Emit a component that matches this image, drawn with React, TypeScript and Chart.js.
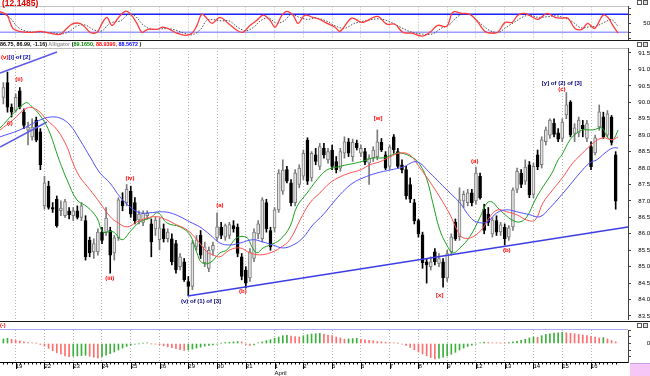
import React, { useEffect, useRef } from "react";
import { Chart, registerables } from "chart.js";
Chart.register(...registerables);

// ---------- data ----------
const dayStartBar = [3, 10, 17, 24, 31, 38, 45, 52, 59, 66, 73, 80, 87, 94, 101, 108, 115, 122, 129, 136, 143];
const dayLabels = ["19", "22", "23", "24", "25", "26", "29", "30", "31", "1", "2", "5", "6", "7", "8", "9", "12", "13", "14", "15", "16"];
const monthName = "April";
const monthStartDay = 9;

const openP = [
  90.15, 90.60, 89.85, 89.75, 90.35, 89.70, 89.15, 88.95, 89.45, 89.10,
  86.85, 87.45, 86.80, 87.05, 86.70, 86.55, 86.70, 86.55, 86.70, 86.50,
  86.40, 85.80, 85.45, 85.45, 86.05, 86.05, 86.10, 85.42, 85.88, 87.00,
  86.95, 87.30, 86.95, 86.42, 86.35, 86.55, 86.30, 86.15, 85.82, 86.15,
  85.85, 85.85, 85.70, 85.00, 85.15, 84.55, 84.40, 85.62, 85.95, 85.12,
  84.95, 85.50, 85.88, 86.20, 85.90, 85.95, 86.25, 86.20, 85.30, 84.90,
  84.66, 85.25, 86.00, 85.85, 86.95, 86.10, 86.18, 86.73, 87.30, 87.95,
  87.55, 86.95, 87.50, 87.75, 88.85, 87.70, 88.40, 88.05, 88.60, 88.25,
  88.55, 88.20, 88.00, 88.45, 88.80, 88.35, 88.75, 88.45, 88.50, 88.15,
  88.30, 88.35, 88.78, 88.40, 88.05, 88.95, 88.50, 88.10, 87.95, 87.50,
  86.95, 86.40, 85.97, 85.15, 85.00, 85.45, 85.10, 85.15, 84.66, 85.45,
  86.35, 85.91, 87.00, 86.95, 87.25, 87.00, 87.75, 86.75, 86.60, 86.00,
  86.40, 86.06, 86.20, 85.90, 86.21, 87.35, 87.85, 87.60, 88.10, 87.20,
  88.40, 88.10, 88.80, 89.00, 89.37, 89.07, 88.90, 89.62, 90.01, 89.05,
  89.07, 89.30, 88.90, 88.65, 88.46, 89.25, 89.56, 89.00, 89.55, 88.40,
];
const highP = [
  90.60, 90.92, 89.95, 90.25, 90.45, 89.80, 89.40, 89.50, 89.55, 89.20,
  87.75, 87.60, 86.95, 87.15, 87.00, 87.05, 86.80, 86.80, 86.85, 86.95,
  86.55, 85.90, 85.85, 86.15, 86.20, 86.80, 86.20, 85.95, 87.10, 87.25,
  87.50, 87.45, 87.10, 86.70, 86.70, 86.70, 86.45, 86.50, 86.48, 86.30,
  86.15, 86.00, 85.80, 85.40, 85.25, 84.70, 85.80, 85.95, 86.10, 85.75,
  85.60, 85.75, 86.64, 86.35, 86.30, 86.35, 86.40, 86.30, 85.40, 85.00,
  85.55, 86.15, 86.40, 87.10, 87.05, 86.20, 86.80, 87.95, 88.25, 88.05,
  87.65, 87.95, 88.10, 88.55, 88.92, 88.50, 88.60, 88.75, 88.75, 88.60,
  88.70, 88.35, 88.60, 88.95, 88.90, 88.88, 88.85, 88.70, 88.60, 88.40,
  88.65, 89.16, 88.90, 88.50, 88.70, 89.02, 88.60, 88.25, 88.05, 87.70,
  87.05, 86.45, 86.05, 85.25, 85.30, 85.55, 85.40, 85.25, 85.50, 86.00,
  86.45, 87.40, 87.30, 87.35, 87.35, 88.03, 87.85, 86.90, 86.80, 86.50,
  86.55, 86.35, 86.30, 86.25, 87.40, 88.00, 87.95, 88.25, 88.20, 88.15,
  88.55, 88.95, 89.25, 89.50, 89.50, 89.20, 89.50, 90.30, 90.05, 89.35,
  89.55, 89.45, 89.45, 88.80, 89.00, 89.92, 89.70, 89.75, 89.60, 88.50,
];
const lowP = [
  89.95, 89.70, 89.55, 89.70, 89.80, 89.20, 88.70, 88.85, 88.80, 87.95,
  86.75, 86.75, 86.65, 86.20, 86.55, 86.50, 86.45, 86.40, 86.45, 86.40,
  85.20, 85.30, 85.25, 85.35, 85.70, 85.95, 84.80, 85.20, 85.80, 86.70,
  86.85, 86.50, 86.30, 86.30, 86.25, 86.45, 85.30, 85.95, 85.51, 85.75,
  85.75, 85.05, 84.80, 84.90, 84.55, 84.12, 84.30, 85.50, 85.25, 85.00,
  84.85, 85.35, 85.80, 85.85, 85.80, 85.85, 86.05, 85.30, 84.60, 84.35,
  84.55, 85.15, 85.85, 85.75, 86.05, 85.50, 86.05, 86.65, 87.20, 87.55,
  86.85, 86.85, 87.40, 87.65, 87.50, 87.60, 88.10, 87.95, 88.30, 88.15,
  87.95, 87.85, 87.90, 88.30, 88.35, 88.20, 88.55, 88.35, 88.10, 87.50,
  88.20, 88.25, 88.50, 87.95, 87.95, 88.45, 88.00, 87.85, 87.05, 86.95,
  86.30, 85.90, 84.95, 84.50, 84.90, 85.05, 85.00, 84.38, 84.55, 85.35,
  85.80, 85.80, 86.80, 86.85, 86.85, 86.90, 87.05, 86.00, 86.25, 85.90,
  85.95, 85.95, 85.66, 85.80, 86.10, 87.25, 87.40, 87.50, 87.10, 87.10,
  87.95, 88.00, 88.70, 88.90, 88.95, 88.80, 88.80, 89.50, 88.95, 88.80,
  88.95, 88.95, 88.80, 87.95, 88.40, 89.15, 88.90, 88.95, 88.70, 86.75,
];
const closeP = [
  90.45, 89.85, 89.70, 90.15, 89.85, 89.30, 89.25, 89.25, 88.85, 88.10,
  87.55, 86.80, 86.75, 86.25, 86.78, 86.98, 86.58, 86.70, 86.50, 86.85,
  85.30, 85.42, 85.70, 86.05, 85.80, 86.48, 85.35, 85.88, 87.03, 86.85,
  87.35, 86.60, 86.40, 86.60, 86.62, 86.62, 85.75, 86.42, 86.18, 85.85,
  86.05, 85.15, 84.90, 85.30, 84.60, 84.40, 85.72, 85.82, 85.35, 85.60,
  85.50, 85.65, 86.21, 85.95, 86.25, 86.28, 86.15, 85.40, 84.70, 84.50,
  85.45, 86.05, 86.30, 87.03, 86.15, 85.60, 86.73, 87.85, 87.94, 87.60,
  86.95, 87.85, 88.00, 88.45, 87.60, 88.45, 88.20, 88.65, 88.40, 88.50,
  88.05, 87.95, 88.50, 88.80, 88.45, 88.78, 88.62, 88.60, 88.18, 88.30,
  88.55, 88.80, 88.55, 88.00, 88.64, 88.55, 88.05, 87.95, 87.15, 87.05,
  86.40, 86.00, 85.12, 85.05, 85.15, 85.15, 85.25, 84.66, 85.40, 85.90,
  85.85, 87.03, 87.20, 87.25, 86.95, 87.85, 87.10, 86.10, 86.35, 86.42,
  86.05, 86.27, 85.85, 86.18, 87.34, 87.90, 87.50, 88.03, 87.18, 88.05,
  88.04, 88.86, 89.16, 89.46, 89.02, 88.88, 89.40, 89.92, 89.01, 89.22,
  89.46, 89.20, 89.35, 88.04, 88.92, 89.71, 88.95, 89.65, 88.78, 86.99,
];

// Alligator (sampled along the bars)
const lipsX = [-0.8, 5.3, 7.0, 9.4, 11.3, 13.3, 14.5, 15.5, 17.9, 20.4, 22.8, 24.2, 26.7, 28.9, 30.8, 33.2, 35.7, 37.6, 39.8, 43.0, 45.4, 47.1, 48.3, 50.3, 52.7, 54.4, 56.8, 59.3, 60.5, 61.7, 63.2, 64.9, 67.3, 69.7, 71.4, 73.9, 76.3, 78.7, 81.2, 83.6, 86.0, 88.5, 89.9, 92.4, 94.6, 96.5, 99.7, 101.4, 103.1, 104.5, 106.2, 107.9, 109.4, 111.1, 113.5, 115.9, 117.7, 118.9, 120.3, 122.1, 123.8, 125.7, 127.4, 129.4, 131.3, 133.5, 135.0, 135.9, 137.9, 139.6, 141.0, 143.5, 145.7, 146.9, 148.3, 149.6];
const lipsY = [89.22, 89.98, 89.86, 89.52, 89.07, 88.34, 87.94, 87.64, 87.03, 86.82, 86.48, 86.06, 86.06, 85.82, 86.06, 86.36, 86.48, 86.64, 86.33, 86.21, 85.97, 85.42, 85.12, 85.12, 85.42, 85.51, 85.88, 85.88, 85.60, 85.42, 85.57, 85.66, 85.82, 86.21, 86.82, 87.24, 87.64, 87.94, 88.03, 88.10, 88.16, 88.25, 88.31, 88.31, 88.40, 88.46, 88.31, 88.10, 87.64, 86.94, 86.12, 85.66, 85.42, 85.57, 85.91, 86.48, 86.94, 86.97, 86.79, 86.58, 86.42, 86.36, 86.52, 87.03, 87.43, 87.85, 88.25, 88.40, 88.86, 89.07, 89.16, 89.16, 89.22, 88.95, 88.86, 89.16];
const teethX = [-0.8, 2.3, 5.8, 8.2, 10.6, 13.1, 15.5, 16.9, 18.6, 21.1, 23.5, 26.0, 27.6, 30.1, 32.5, 34.9, 37.4, 39.8, 42.2, 44.7, 47.1, 49.5, 51.0, 52.7, 55.1, 57.6, 60.0, 62.4, 64.9, 67.3, 69.7, 72.2, 74.6, 77.0, 79.5, 81.9, 84.3, 86.8, 89.2, 91.6, 94.1, 96.5, 98.9, 101.4, 103.8, 106.2, 108.7, 110.4, 111.8, 114.3, 116.7, 118.4, 120.3, 122.5, 124.9, 127.4, 129.4, 131.3, 133.7, 136.2, 138.6, 141.0, 143.5, 145.9, 148.1, 149.6];
const teethY = [89.16, 89.46, 89.83, 89.77, 89.46, 89.16, 88.64, 88.16, 87.73, 87.34, 86.94, 86.52, 86.36, 86.21, 86.36, 86.48, 86.52, 86.42, 86.27, 86.12, 85.82, 85.45, 85.36, 85.30, 85.51, 85.57, 85.42, 85.36, 85.42, 85.57, 85.82, 86.42, 86.94, 87.24, 87.55, 87.73, 87.85, 87.94, 88.10, 88.19, 88.34, 88.46, 88.40, 88.00, 87.58, 87.12, 86.58, 86.12, 85.88, 85.91, 86.18, 86.52, 86.73, 86.67, 86.58, 86.42, 86.42, 86.94, 87.34, 87.73, 88.16, 88.46, 88.76, 88.92, 88.86, 88.95];
const jawX = [-0.8, 4.0, 8.9, 11.3, 13.8, 16.2, 18.6, 21.1, 23.5, 25.9, 28.4, 30.8, 33.2, 35.7, 38.1, 40.5, 43.0, 45.4, 47.8, 50.3, 52.7, 55.1, 57.6, 60.7, 63.2, 65.6, 68.0, 70.5, 72.9, 75.3, 77.8, 80.2, 82.6, 85.1, 87.5, 90.9, 94.1, 97.2, 100.6, 103.8, 106.2, 108.7, 111.1, 113.5, 115.2, 117.7, 120.1, 122.5, 124.9, 128.1, 130.6, 133.0, 135.4, 137.9, 140.3, 142.7, 144.4, 146.4, 148.3, 149.6];
const jawY = [88.95, 89.16, 89.46, 89.55, 89.52, 89.31, 88.86, 88.34, 87.85, 87.55, 87.12, 86.82, 86.64, 86.64, 86.67, 86.64, 86.52, 86.36, 86.21, 85.97, 85.72, 85.66, 85.72, 85.82, 85.75, 85.66, 85.57, 85.66, 85.88, 86.27, 86.58, 86.94, 87.28, 87.55, 87.70, 87.85, 87.94, 88.03, 88.19, 87.85, 87.55, 87.24, 86.94, 86.52, 86.36, 86.36, 86.64, 86.73, 86.67, 86.58, 86.52, 86.79, 87.12, 87.49, 87.85, 88.16, 88.25, 88.46, 88.61, 88.61];

// Trend lines (bar index, price)
const trendUpperX = [-0.8, 13.05];
const trendUpperY = [90.89, 91.53];
const trendLeftX = [-0.8, 10.6];
const trendLeftY = [88.64, 89.4];
const trendMainX = [44.9, 152];
const trendMainY = [84.11, 86.21];

// Wave labels
const minorWaveText = ["(i)", "(ii)", "(iii)", "(iv)", "(a)", "(b)", "[w]", "[x]", "(a)", "(b)", "(c)"];
const minorWaveBar = [1.6, 3.8, 25.9, 30.8, 52.7, 58.3, 91.2, 106.2, 114.7, 122.5, 135.9];
const minorWavePrice = [89.37, 90.71, 84.63, 87.7, 86.88, 84.24, 89.52, 84.14, 88.19, 85.51, 90.38];
const majorWaveText = ["(v) of (1) of [3]", "[y] of (2) of [3]"];
const majorWaveBar = [48.1, 135.9];
const majorWavePrice = [83.96, 90.59];
const cornerParts = ["(v)", "[i] of [2]"];
const cornerBar = -0.8;
const cornerPrice = 91.36;

const priceTicks = [83.5, 84, 84.5, 85, 85.5, 86, 86.5, 87, 87.5, 88, 88.5, 89, 89.5, 90, 90.5, 91, 91.5];

// Stochastic
const stochKx = [-0.8, 0.9, 2.3, 4.0, 5.7, 7.2, 8.9, 11.3, 13.8, 15.0, 16.7, 18.6, 19.9, 21.1, 22.8, 24.0, 25.2, 26.4, 27.9, 29.6, 30.8, 32.5, 33.7, 35.2, 37.4, 38.8, 40.5, 42.2, 44.2, 45.9, 47.1, 48.3, 49.5, 50.8, 52.7, 54.7, 56.8, 58.3, 60.0, 61.7, 63.2, 64.9, 66.1, 67.8, 69.0, 70.5, 71.7, 73.4, 75.3, 77.5, 78.3, 80.7, 81.9, 84.8, 87.3, 91.0, 93.3, 95.3, 97.2, 99.4, 101.9, 103.8, 105.7, 107.9, 109.4, 111.6, 113.5, 115.5, 117.2, 118.9, 120.3, 122.1, 123.8, 125.2, 126.9, 128.9, 130.1, 132.3, 134.2, 135.9, 137.4, 139.1, 140.8, 142.2, 143.9, 145.9, 147.1, 148.3, 149.6];
const stochK = [89, 77, 33, 23, 20, 20, 23, 17, 13, 27, 47, 50, 37, 20, 20, 50, 70, 43, 67, 90, 83, 50, 20, 30, 30, 37, 30, 17, 10, 17, 43, 80, 67, 50, 70, 50, 27, 20, 43, 60, 77, 60, 37, 77, 90, 77, 50, 77, 70, 60, 53, 37, 23, 67, 53, 73, 47, 47, 20, 17, 7, 20, 43, 40, 87, 83, 80, 53, 23, 17, 20, 53, 53, 77, 83, 70, 63, 83, 70, 67, 67, 33, 30, 50, 33, 77, 70, 43, 17];
const stochDx = [-0.8, 1.5, 3.3, 5, 7, 9.5, 12, 14.5, 16.3, 18, 20, 22, 24, 25.5, 27, 28.5, 30.5, 32, 34, 36, 38, 40, 42, 44, 46, 48, 49.5, 51, 53, 55, 57, 59, 61, 62.5, 64.5, 66.5, 68.5, 70, 72, 74, 76, 78.5, 81, 83, 85.5, 88, 91.5, 94, 96.5, 99, 102, 104.5, 106.5, 108.5, 110.5, 112.5, 114.5, 116.5, 118.5, 120.5, 122.5, 124.5, 126, 128, 130, 132.5, 134.5, 136.5, 138.5, 140.5, 142.5, 144.5, 146.5, 148, 149.6];
const stochD = [85, 70, 40, 26, 21, 21, 18, 15, 25, 42, 44, 28, 25, 45, 55, 58, 80, 75, 45, 30, 31, 33, 27, 17, 12, 30, 60, 62, 58, 58, 37, 25, 38, 58, 68, 50, 60, 80, 70, 63, 68, 58, 40, 33, 50, 58, 65, 55, 38, 22, 14, 15, 33, 45, 72, 83, 70, 45, 25, 20, 38, 55, 68, 78, 70, 72, 75, 68, 55, 35, 38, 42, 55, 62, 40];
const stochLevels = [80, 20];
const stochTicks = [0, 20, 50, 80, 100];
const stochLabelValue = 50;

// Gator oscillator (one value per bar)
const gatorVals = [
  0.14, 0.16, 0.13, 0.10, 0.08, 0.05, 0.03, 0.02, 0.01, -0.03,
  -0.08, -0.15, -0.22, -0.28, -0.33, -0.38, -0.40, -0.39, -0.38, -0.37,
  -0.36, -0.39, -0.42, -0.44, -0.40, -0.36, -0.31, -0.26, -0.20, -0.14,
  -0.09, -0.05, -0.02, -0.01, 0.01, 0.02, -0.01, -0.02, -0.04, -0.07,
  -0.10, -0.13, -0.16, -0.19, -0.21, -0.20, -0.17, -0.14, -0.11, -0.08,
  -0.06, -0.04, -0.02, 0.01, 0.03, 0.04, 0.05, 0.06, 0.05, -0.03,
  -0.06, -0.04, 0.02, 0.05, 0.09, 0.12, 0.16, 0.20, 0.24, 0.25,
  0.23, 0.21, 0.20, 0.24, 0.27, 0.29, 0.30, 0.31, 0.29, 0.26,
  0.24, 0.20, 0.17, 0.13, 0.14, 0.15, 0.16, 0.13, 0.11, 0.10,
  0.08, 0.06, 0.05, 0.04, 0.03, 0.02, 0.01, -0.02, -0.06, -0.12,
  -0.19, -0.26, -0.32, -0.38, -0.43, -0.47, -0.45, -0.42, -0.38, -0.33,
  -0.27, -0.20, -0.14, -0.09, -0.05, -0.02, 0.02, 0.04, 0.03, 0.02,
  0.02, 0.01, 0.01, 0.03, 0.05, 0.07, 0.10, 0.13, 0.17, 0.20,
  0.19, 0.24, 0.28, 0.30, 0.32, 0.33, 0.34, 0.33, 0.31, 0.30,
  0.28, 0.26, 0.24, 0.22, 0.20, 0.17, 0.18, 0.14, 0.09, 0.05,
];
const gatorTicks = [-0.4, -0.2, 0, 0.2, 0.4];

// ---------- component ----------
const FONT = '"Liberation Sans", Arial, sans-serif';
const X_MIN = -0.82;
const X_MAX = 152;

const pts = (xs: number[], ys: number[]) => xs.map((x, i) => ({ x, y: ys[i] }));

export default function App() {
  const stochRef = useRef<HTMLCanvasElement>(null);
  const mainRef = useRef<HTMLCanvasElement>(null);
  const gatorRef = useRef<HTMLCanvasElement>(null);

  useEffect(() => {
    document.body.style.margin = "0";
    const noPad = (s: any) => {
      s.paddingLeft = 0; s.paddingRight = 0; s.paddingTop = 0; s.paddingBottom = 0;
    };
    const dayTicks = (s: any) => { s.ticks = dayStartBar.map((v) => ({ value: v })); };
    const hiddenX = (): any => ({
      type: "linear", min: X_MIN, max: X_MAX, offset: false,
      grid: { offset: false, color: "#b4b4b4", lineWidth: 1, drawTicks: false },
      border: { display: false, dash: [1, 2] },
      ticks: { display: false },
      afterBuildTicks: dayTicks,
      afterFit: (s: any) => { s.height = 0; noPad(s); },
    });
    const rightY = (min: number, max: number, ticks: number[], labelFn: (v: number) => string, pad: number): any => ({
      position: "right", min, max,
      grid: { display: true, drawOnChartArea: false, drawTicks: true, tickLength: 3, color: "#404040" },
      border: { display: true, color: "#404040", width: 1 },
      ticks: { font: { family: FONT, size: 6 }, color: "#000", padding: pad, crossAlign: "far", autoSkip: false, callback: labelFn },
      afterBuildTicks: (s: any) => { s.ticks = ticks.map((v) => ({ value: v })); },
      afterFit: (s: any) => { s.width = 22; noPad(s); },
    });
    const base: any = {
      animation: false, responsive: false, maintainAspectRatio: false, events: [],
      plugins: { legend: { display: false }, tooltip: { enabled: false } },
    };

    // ---- stochastic ----
    const levelPlugin = {
      id: "levels",
      beforeDatasetsDraw(chart: any) {
        const { ctx, chartArea, scales } = chart;
        const cols = ["#1c1cff", "#9c9cff"];
        ctx.save();
        ctx.lineWidth = 1.5;
        stochLevels.forEach((lv, k) => {
          const py = scales.y.getPixelForValue(lv);
          ctx.strokeStyle = cols[k];
          ctx.beginPath(); ctx.moveTo(chartArea.left, py); ctx.lineTo(chartArea.right, py); ctx.stroke();
        });
        ctx.restore();
      },
    };
    const stoch = new Chart(stochRef.current as HTMLCanvasElement, {
      type: "line",
      data: {
        datasets: [
          { label: "%K", data: pts(stochKx, stochK), borderColor: "#ff3c3c", borderWidth: 1.3, pointRadius: 0, tension: 0.35, order: 0 },
          { label: "%D", data: pts(stochDx, stochD), borderColor: "#505050", borderWidth: 1, borderDash: [1.5, 1.5], pointRadius: 0, tension: 0.35, order: 1 },
        ],
      },
      options: {
        ...base,
        layout: { padding: { top: 6.5, bottom: 1, left: 0, right: 0 } },
        scales: {
          x: hiddenX(),
          y: rightY(-2.3, 106, stochTicks, (v: number) => (v === stochLabelValue ? String(v) : ""), 10.3),
        },
      },
      plugins: [levelPlugin],
    } as any);

    // ---- main price panel ----
    const up = closeP.map((c, i) => c >= openP[i]);
    const wavePlugin = {
      id: "waves",
      afterDatasetsDraw(chart: any) {
        const { ctx, scales } = chart;
        const x = scales.x, y = scales.y;
        ctx.save();
        ctx.font = `bold 6px ${FONT}`;
        ctx.textBaseline = "middle";
        ctx.textAlign = "center";
        ctx.fillStyle = "#ff0000";
        minorWaveText.forEach((t, k) => ctx.fillText(t, x.getPixelForValue(minorWaveBar[k]), y.getPixelForValue(minorWavePrice[k])));
        ctx.fillStyle = "#00007c";
        majorWaveText.forEach((t, k) => ctx.fillText(t, x.getPixelForValue(majorWaveBar[k]), y.getPixelForValue(majorWavePrice[k])));
        ctx.textAlign = "left";
        let px = x.getPixelForValue(cornerBar) + 1;
        const py = y.getPixelForValue(cornerPrice);
        ctx.fillStyle = "#ff0000";
        ctx.fillText(cornerParts[0], px, py);
        px += ctx.measureText(cornerParts[0]).width;
        ctx.fillStyle = "#0000b0";
        ctx.fillText(cornerParts[1], px, py);
        ctx.restore();
      },
    };
    const line = (data: any, color: string, width: number, tension: number) => ({
      type: "line", data, borderColor: color, borderWidth: width, pointRadius: 0, tension, fill: false, order: 0,
    });
    const main = new Chart(mainRef.current as HTMLCanvasElement, {
      type: "line",
      data: {
        datasets: [
          line(pts(jawX, jawY), "rgb(80,80,255)", 1, 0.4),
          line(pts(teethX, teethY), "rgb(255,80,80)", 1, 0.4),
          line(pts(lipsX, lipsY), "rgb(30,160,30)", 1, 0.4),
          line(pts(trendUpperX, trendUpperY), "rgb(90,90,235)", 1.5, 0),
          line(pts(trendLeftX, trendLeftY), "rgb(90,90,235)", 1.5, 0),
          line(pts(trendMainX, trendMainY), "rgb(60,60,230)", 1.5, 0),
          {
            type: "bar", label: "body",
            data: openP.map((o, i) => ({ x: i, y: [o, closeP[i]] })),
            backgroundColor: up.map((u) => (u ? "#e4e4e4" : "#000")),
            borderColor: up.map((u) => (u ? "#7a7a7a" : "#000")),
            borderWidth: 1, borderSkipped: false, barThickness: 3, grouped: false, order: 1,
          },
          {
            type: "bar", label: "wick",
            data: lowP.map((l, i) => ({ x: i, y: [l, highP[i]] })),
            backgroundColor: up.map((u) => (u ? "#7a7a7a" : "#000")),
            borderWidth: 0, barThickness: 1, grouped: false, order: 2,
          },
        ],
      },
      options: {
        ...base,
        layout: { padding: 0 },
        scales: {
          x: hiddenX(),
          y: rightY(83.378, 91.652, priceTicks, (v: number) => Number(v).toFixed(1), 5.3),
        },
      },
      plugins: [wavePlugin],
    } as any);

    // ---- gator oscillator ----
    const gCols = gatorVals.map((v, i) => (i === 0 || v > gatorVals[i - 1] ? "rgb(60,175,60)" : "rgb(255,110,110)"));
    const tickPlugin = {
      id: "barTicks",
      afterDraw(chart: any) {
        const { ctx, chartArea, scales } = chart;
        const x = scales.x;
        ctx.save();
        ctx.strokeStyle = "#000";
        ctx.lineWidth = 1;
        ctx.beginPath();
        gatorVals.forEach((_, i) => {
          const px = Math.round(x.getPixelForValue(i)) + 0.5;
          ctx.moveTo(px, chartArea.bottom); ctx.lineTo(px, chartArea.bottom + 2.5);
        });
        dayStartBar.forEach((v) => {
          const px = Math.round(x.getPixelForValue(v)) + 0.5;
          ctx.moveTo(px, chartArea.bottom); ctx.lineTo(px, chartArea.bottom + 7);
        });
        ctx.stroke();
        ctx.restore();
      },
    };
    const gator = new Chart(gatorRef.current as HTMLCanvasElement, {
      type: "line",
      data: {
        datasets: [
          {
            type: "bar", label: "gator",
            data: gatorVals.map((v, i) => ({ x: i, y: v })),
            backgroundColor: gCols, borderWidth: 0, barThickness: 1, grouped: false,
          },
        ],
      },
      options: {
        ...base,
        layout: { padding: { top: 4, bottom: 0, left: 0, right: 0 } },
        scales: {
          x: {
            type: "linear", min: X_MIN, max: X_MAX, offset: false,
            grid: { offset: false, color: "#b4b4b4", lineWidth: 1, drawTicks: false },
            border: { display: true, color: "#000", width: 1, dash: [1, 2] },
            ticks: {
              display: true, autoSkip: false, maxRotation: 0, minRotation: 0, align: "start", padding: 1,
              font: { family: FONT, size: 6 }, color: "#000",
              callback: (_v: number, idx: number) => (idx === monthStartDay ? [dayLabels[idx], monthName] : dayLabels[idx]),
            },
            afterBuildTicks: dayTicks,
            afterFit: (s: any) => { s.height = 14; noPad(s); },
          },
          y: rightY(-0.567, 0.414, gatorTicks, (v: number) => (v === 0 ? "0" : ""), 13.6),
        },
      },
      plugins: [tickPlugin],
    } as any);

    return () => { stoch.destroy(); main.destroy(); gator.destroy(); };
  }, []);

  const abs = (s: any) => ({ position: "absolute", ...s } as React.CSSProperties);
  const icons = (top: number) => (
    <>
      <div style={abs({ left: 637, top, width: 3, height: 3, border: "1px solid #555", background: "#fff" })} />
      <div style={abs({ left: 643, top, width: 3, height: 3, border: "1px solid #555", background: "#ddd" })} />
    </>
  );

  return (
    <div style={{ position: "relative", width: 650, height: 376, background: "#fff", overflow: "hidden", fontFamily: FONT }}>
      <canvas ref={stochRef} width={650} height={40} style={abs({ left: 0, top: 0 })} />
      <canvas ref={mainRef} width={650} height={272} style={abs({ left: 0, top: 48 })} />
      <canvas ref={gatorRef} width={650} height={50} style={abs({ left: 0, top: 326 })} />

      {/* panel borders / separators */}
      <div style={abs({ left: 0, top: 6, width: 628, height: 1, background: "#c4c4c4" })} />
      <div style={abs({ left: 0, top: 40, width: 650, height: 1, background: "#1a1a1a" })} />
      <div style={abs({ left: 0, top: 48, width: 628, height: 1, background: "#bcbcbc" })} />
      <div style={abs({ left: 0, top: 321, width: 650, height: 1, background: "#1a1a1a" })} />
      <div style={abs({ left: 0, top: 329, width: 628, height: 1, background: "#a8a8f4" })} />

      {/* headers */}
      <div style={abs({ left: 2, top: -2, fontSize: 8.5, fontWeight: "bold", color: "#e00000", lineHeight: "10px", whiteSpace: "nowrap" })}>(12.1485)</div>
      <div style={abs({ left: 0, top: 41, fontSize: 5.4, fontWeight: "bold", lineHeight: "7px", whiteSpace: "nowrap" })}>
        <span style={{ color: "#000" }}>86.75, 86.99, -1.16) </span>
        <span style={{ color: "#9a9a9a" }}>Alligator </span>
        <span style={{ color: "#000" }}>(</span>
        <span style={{ color: "#008a00" }}>89.1650, </span>
        <span style={{ color: "#ff0000" }}>88.9390, </span>
        <span style={{ color: "#0000ff" }}>88.5672</span>
        <span style={{ color: "#000" }}> )</span>
      </div>
      <div style={abs({ left: 0, top: 322, fontSize: 5.5, fontWeight: "bold", color: "#ff0000", lineHeight: "6px" })}>(-)</div>
      {icons(0)}
      {icons(42)}
      {icons(323)}
      <div style={abs({ left: 630, top: 363, width: 20, height: 13, background: "#f6c6f6", borderTop: "1px solid #c8a0e8" })} />
    </div>
  );
}
